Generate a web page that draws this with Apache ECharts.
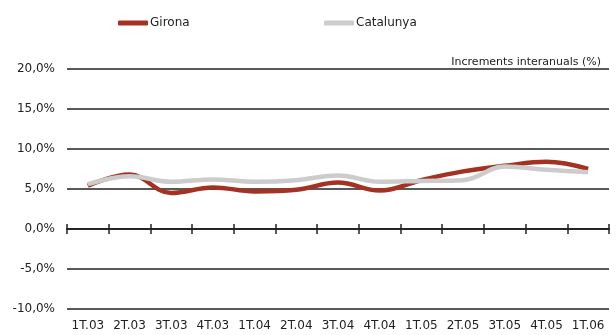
<!DOCTYPE html>
<html>
<head>
<meta charset="utf-8">
<script src="https://cdn.jsdelivr.net/npm/echarts@6/dist/echarts.min.js"></script>
<style>html,body{margin:0;padding:0;background:#fff}#chart{width:616px;height:335px}</style>
</head>
<body>
<div id="chart"></div>
<script>
// categories (trimestres)
var trimestres = ['1T.03','2T.03','3T.03','4T.03','1T.04','2T.04','3T.04','4T.04','1T.05','2T.05','3T.05','4T.05','1T.06'];
// increments interanuals (%)
var girona    = [5.4, 6.8, 4.5, 5.2, 4.7, 4.9, 5.8, 4.8, 6.1, 7.2, 7.9, 8.4, 7.5];
var catalunya = [5.6, 6.6, 5.9, 6.2, 5.9, 6.1, 6.7, 5.9, 6.0, 6.1, 7.8, 7.4, 7.1];

var chart = echarts.init(document.getElementById('chart'));
var font = 'DejaVu Sans';

function pct(v){ return v.toFixed(1).replace('.', ',') + '%'; }

var option = {
    animation: false,
    textStyle: { fontFamily: font },
    title: {
        text: 'Increments interanuals (%)',
        right: 10,
        top: 52,
        textStyle: { fontSize: 11, fontWeight: 'normal', color: '#222', fontFamily: font }
    },
    legend: [{
        data: ['Girona'],
        left: 113, top: 12,
        itemWidth: 30, itemHeight: 5,
        icon: 'roundRect',
        textStyle: { fontSize: 12, color: '#222', padding: [0, 0, 0, -3] }
    }, {
        data: ['Catalunya'],
        left: 319, top: 12,
        itemWidth: 30, itemHeight: 5,
        icon: 'roundRect',
        textStyle: { fontSize: 12, color: '#222', padding: [0, 0, 0, -3] }
    }],
    grid: { left: 67, right: 7, top: 69, bottom: 26 },
    xAxis: [{
        // etiquetes a baix
        type: 'category',
        data: trimestres,
        position: 'bottom',
        axisLine: { show: false, onZero: false },
        axisTick: { show: false },
        axisLabel: { color: '#222', fontSize: 12, margin: 11, interval: 0 }
    }, {
        // eix al 0% amb marques cap avall
        type: 'category',
        data: trimestres,
        position: 'bottom',
        axisLine: { onZero: true, onZeroAxisIndex: 0, lineStyle: { color: '#222', width: 1.5 } },
        axisTick: { show: true, interval: 0, length: 5, lineStyle: { color: '#222', width: 1.5 } },
        axisLabel: { show: false }
    }, {
        // marques cap amunt
        type: 'category',
        data: trimestres,
        position: 'top',
        axisLine: { onZero: true, onZeroAxisIndex: 1, lineStyle: { color: '#222', width: 1.5 } },
        axisTick: { show: true, interval: 0, length: 5, lineStyle: { color: '#222', width: 1.5 } },
        axisLabel: { show: false }
    }],
    yAxis: [{
        type: 'value',
        min: -10, max: 20, interval: 5,
        axisLine: { show: false },
        axisTick: { show: false },
        axisLabel: { color: '#222', fontSize: 12, margin: 12, formatter: pct },
        splitLine: { lineStyle: { color: '#222', width: 1.5 } }
    }, {
        // eix auxiliar per a les marques de dalt
        type: 'value',
        min: -10, max: 20, interval: 5,
        axisLine: { show: false },
        axisTick: { show: false },
        axisLabel: { show: false },
        splitLine: { show: false }
    }],
    series: [{
        name: 'Girona',
        type: 'line',
        data: girona,
        smooth: 0.4,
        symbol: 'none',
        lineStyle: { color: '#a33222', width: 4.5 },
        itemStyle: { color: '#a33222' }
    }, {
        name: 'Catalunya',
        type: 'line',
        data: catalunya,
        smooth: 0.4,
        symbol: 'none',
        z: 3,
        lineStyle: { color: '#cccccc', width: 4.5 },
        itemStyle: { color: '#cccccc' }
    }]
};

chart.setOption(option);
window.onresize = function(){ chart.resize(); };
</script>
</body>
</html>
